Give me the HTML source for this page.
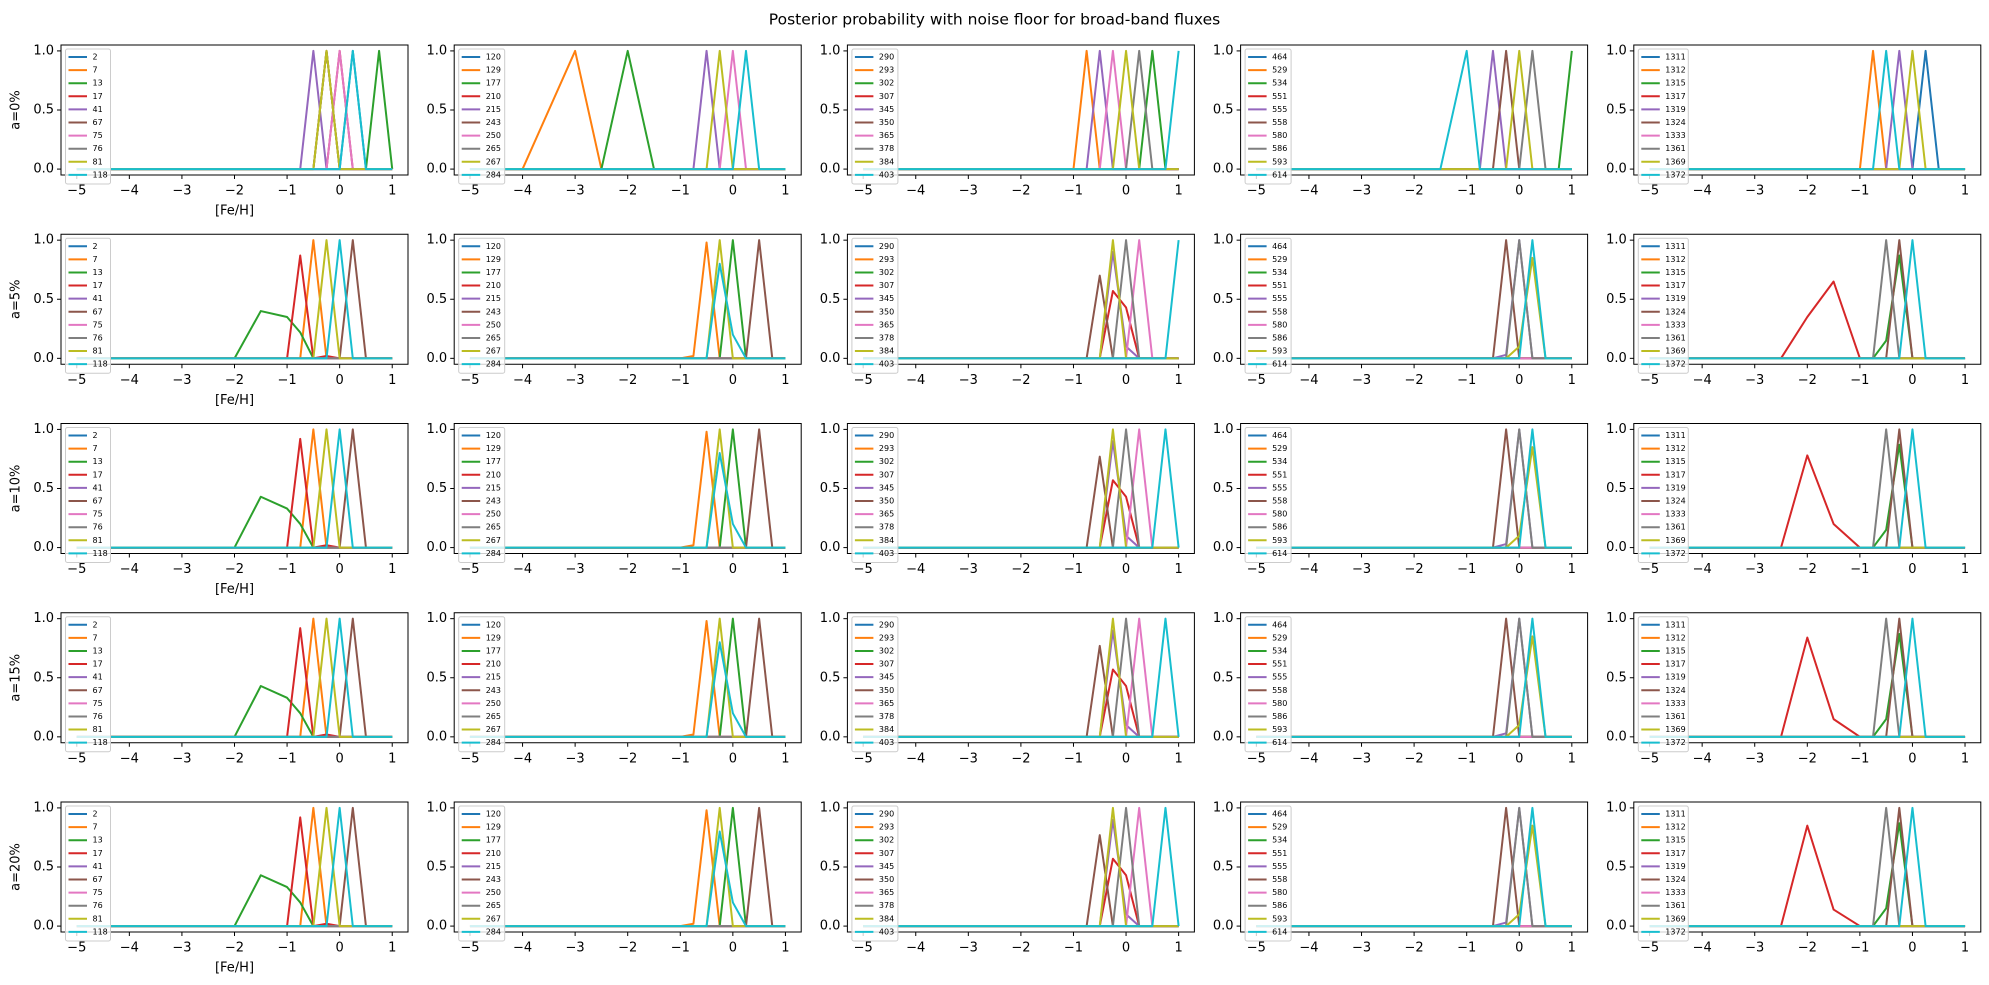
<!DOCTYPE html>
<html><head><meta charset="utf-8">
<style>
html,body{margin:0;padding:0;background:#fff;}
svg{display:block;font-family:"DejaVu Sans","Liberation Sans",sans-serif;}
</style></head>
<body>
<svg id="s" width="1989" height="985" xmlns="http://www.w3.org/2000/svg"></svg>
<script>
const C=["#1f77b4","#ff7f0e","#2ca02c","#d62728","#9467bd","#8c564b","#e377c2","#7f7f7f","#bcbd22","#17becf"];
const G=[-5,-4,-3,-2.5,-2,-1.5,-1,-0.75,-0.5,-0.25,0,0.25,0.5,0.75,1];
const LAB=[[2,7,13,17,41,67,75,76,81,118],[120,129,177,210,215,243,250,265,267,284],[290,293,302,307,345,350,365,378,384,403],[464,529,534,551,555,558,580,586,593,614],[1311,1312,1315,1317,1319,1324,1333,1361,1369,1372]];
const ROWL=["a=0%","a=5%","a=10%","a=15%","a=20%"];
function row1(){return [
 {0:{0.25:1},1:{"-0.25":1},2:{0.75:1},3:{0:1},4:{"-0.5":1},5:{"-0.25":1},6:{0:1},7:{"-0.25":1},8:{"-0.25":1},9:{0.25:1}},
 {1:{"-3":1},2:{"-2":1},4:{"-0.5":1},8:{"-0.25":1},6:{0:1},9:{0.25:1}},
 {1:{"-0.75":1},4:{"-0.5":1},6:{"-0.25":1},8:{0:1},7:{0.25:1},2:{0.5:1},9:{1:1}},
 {9:{"-1":1},4:{"-0.5":1},5:{"-0.25":1},8:{0:1},7:{0.25:1},2:{1:1}},
 {1:{"-0.75":1},9:{"-0.5":1},4:{"-0.25":1},8:{0:1},0:{0.25:1}}];}
function rowN(r){
 const g=r==1?{"-1.5":0.4,"-1":0.35,"-0.75":0.22}:{"-1.5":0.43,"-1":0.33,"-0.75":0.2};
 const red=r==1?0.87:0.92;
 const c5r=[null,{"-2":0.35,"-1.5":0.65},{"-2":0.78,"-1.5":0.2},{"-2":0.84,"-1.5":0.15},{"-2":0.85,"-1.5":0.14}][r];
 return [
 {2:g,3:{"-0.75":red,"-0.25":0.02},1:{"-0.5":1},8:{"-0.25":1},9:{0:1},5:{0.25:1}},
 {1:{"-0.5":0.98,"-0.75":0.02},8:{"-0.25":1},9:{"-0.25":0.8,0:0.2},2:{0:1},5:{0.5:1}},
 {5:{"-0.5":r==1?0.7:0.77},3:{"-0.25":0.57,0:0.43},8:{"-0.25":1},4:{"-0.25":0.9,0:0.1},7:{0:1},6:{0.25:1},9:(r==1?{1:1}:{0.75:1})},
 {5:{"-0.25":1},4:{"-0.25":0.03,0:1},8:{0:0.1,0.25:0.85},7:{0:1},9:{0.25:1}},
 {3:c5r,7:{"-0.5":1},2:{"-0.5":0.15,"-0.25":0.87},5:{"-0.25":1},9:{0:1}}];}
let o='';
o+=`<text x="994.5" y="20" font-size="15.5" text-anchor="middle" dominant-baseline="middle">Posterior probability with noise floor for broad-band fluxes</text>`;
const W=347,H=130;
for(let r=0;r<5;r++){
 const data=r==0?row1():rowN(r);
 const top=45+r*189.25;
 for(let c=0;c<5;c++){
  const left=61+c*393.2;
  const X=v=>left+(v+5.3)/6.6*W, Y=v=>top+(1.05-v)/1.1*H;
  o+=`<clipPath id="k${r}${c}"><rect x="${left}" y="${top}" width="${W}" height="${H}"/></clipPath>`;
  o+=`<g clip-path="url(#k${r}${c})">`;
  for(let i=0;i<10;i++){
   const d=data[c][i]||{};
   const pts=G.map(x=>{let v=d[x];if(v===undefined)v=d[String(x)];if(v===undefined)v=0;return X(x).toFixed(2)+","+Y(v).toFixed(2);}).join(" ");
   o+=`<polyline points="${pts}" fill="none" stroke="${C[i]}" stroke-width="2" stroke-linejoin="round"/>`;
  }
  o+=`</g>`;
  o+=`<rect x="${left}" y="${top}" width="${W}" height="${H}" fill="none" stroke="#000" stroke-width="1"/>`;
  for(let t=-5;t<=1;t++){const x=X(t);
   o+=`<line x1="${x}" y1="${top+H}" x2="${x}" y2="${top+H+4}" stroke="#000"/>`;
   o+=`<text x="${x}" y="${top+H+16}" font-size="13" text-anchor="middle" dominant-baseline="middle">${t<0?"\u2212"+(-t):t}</text>`;}
  [0,0.5,1].forEach(v=>{const y=Y(v);
   o+=`<line x1="${left-4}" y1="${y}" x2="${left}" y2="${y}" stroke="#000"/>`;
   o+=`<text x="${left-7}" y="${y}" font-size="13" text-anchor="end" dominant-baseline="middle">${v.toFixed(1)}</text>`;});
  const lw=c==4?50:(c==0?45:46);
  o+=`<rect x="${left+4.5}" y="${top+4}" width="${lw}" height="135" rx="2" fill="#fff" fill-opacity="0.8" stroke="#ccc" stroke-width="1"/>`;
  for(let i=0;i<10;i++){const y=top+12+i*13.1;
   o+=`<line x1="${left+7.5}" y1="${y}" x2="${left+26}" y2="${y}" stroke="${C[i]}" stroke-width="2"/>`;
   o+=`<text x="${left+31.5}" y="${y}" font-size="8" dominant-baseline="middle">${LAB[c][i]}</text>`;}
  if(c==0){
   o+=`<text transform="translate(16,${top+H/2}) rotate(-90)" font-size="13" text-anchor="middle" dominant-baseline="middle">${ROWL[r]}</text>`;
   if(r!=3) o+=`<text x="${left+W/2}" y="${top+H+36}" font-size="13" text-anchor="middle" dominant-baseline="middle">[Fe/H]</text>`;
  }
 }
}
document.getElementById('s').innerHTML=o;
</script>
</body></html>
